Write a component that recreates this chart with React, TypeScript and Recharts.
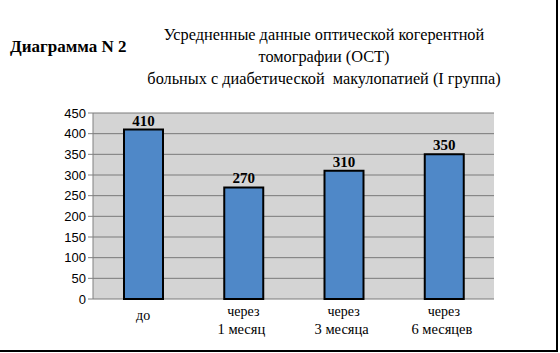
import React from 'react';
import { BarChart, Bar, XAxis, YAxis, CartesianGrid, LabelList } from 'recharts';

const categories = ['до', 'через|1 месяц', 'через|3 месяца', 'через|6 месяцев'];
const values = [410, 270, 310, 350];
const yTicks = [0, 50, 100, 150, 200, 250, 300, 350, 400, 450];
const edgeTicks = [0, 1, 2, 3, 4];

const data = categories.map((c, i) => ({ cat: c, value: values[i] }));

const serif = "'Times New Roman', 'Liberation Serif', 'DejaVu Serif', serif";
const sans = "Arial, 'Liberation Sans', sans-serif";

const CatTick = (props: any) => {
  const { x, y, payload } = props;
  const parts = String(payload.value).split('|');
  if (parts.length === 1) {
    return (
      <text x={x} y={y + 13} textAnchor="middle" style={{ fontFamily: serif, fontSize: 14 }} fill="#000">
        {parts[0]}
      </text>
    );
  }
  return (
    <g>
      <text x={x} y={y + 9} textAnchor="middle" style={{ fontFamily: serif, fontSize: 14 }} fill="#000">
        {parts[0]}
      </text>
      <text x={x - 2} y={y + 27} textAnchor="middle" style={{ fontFamily: serif, fontSize: 14.5 }} fill="#000">
        {parts[1]}
      </text>
    </g>
  );
};

export default function App() {
  return (
    <div style={{ position: 'absolute', left: 0, top: 0, width: 560, height: 353, background: '#fff' }}>
      <div
        style={{
          position: 'absolute', left: 0, top: 0, width: 556, height: 350,
          borderRight: '2px solid #000', borderBottom: '2px solid #000',
        }}
      />
      <div style={{ position: 'absolute', left: 10, top: 36, fontFamily: serif, fontWeight: 'bold', fontSize: 17, lineHeight: '22px', whiteSpace: 'nowrap' }}>
        Диаграмма N 2
      </div>
      <div style={{ position: 'absolute', left: 124, top: 24, width: 400, textAlign: 'center', fontFamily: serif, fontSize: 16.3, lineHeight: '22px', whiteSpace: 'pre' }}>
        {'Усредненные данные оптической когерентной\nтомографии (ОСТ)\nбольных с диабетической  макулопатией (I группа)'}
      </div>
      <BarChart
        width={560}
        height={353}
        data={data}
        margin={{ top: 113, right: 66, left: 33, bottom: 14 }}
        style={{ position: 'absolute', left: 0, top: 0 }}
      >
        <CartesianGrid vertical={false} stroke="#7a7a7a" fill="#D4D4D4" />
        <XAxis
          xAxisId="edge"
          type="number"
          domain={[0, 4]}
          ticks={edgeTicks}
          height={0}
          stroke="#808080"
          tickSize={4}
          tickFormatter={() => ''}
        />
        <XAxis
          xAxisId="cat"
          dataKey="cat"
          height={40}
          axisLine={false}
          tickLine={false}
          tick={<CatTick />}
          interval={0}
        />
        <YAxis
          width={60}
          domain={[0, 450]}
          ticks={yTicks}
          stroke="#808080"
          tickSize={5}
          tick={{ fontFamily: sans, fontSize: 13, fill: '#000' }}
          interval={0}
        />
        <YAxis yAxisId="r" orientation="right" width={0} tick={false} tickLine={false} stroke="#9a9a9a" domain={[0, 450]} />
        <Bar xAxisId="cat" dataKey="value" fill="#4F88C8" stroke="#000" strokeWidth={2} barSize={39} isAnimationActive={false}>
          <LabelList dataKey="value" position="top" offset={4} style={{ fontFamily: serif, fontWeight: 'bold', fontSize: 15 }} fill="#000" />
        </Bar>
      </BarChart>
    </div>
  );
}
